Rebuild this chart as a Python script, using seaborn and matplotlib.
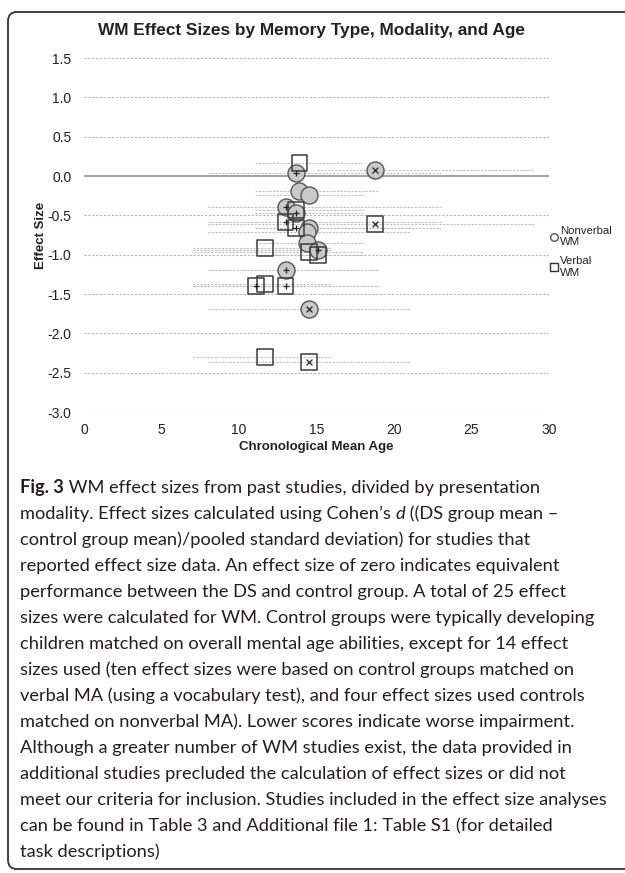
import matplotlib
matplotlib.use("Agg")
import matplotlib.pyplot as plt
import seaborn as sns
import pandas as pd
from matplotlib.lines import Line2D
from matplotlib.patches import FancyBboxPatch

# ---------------- data ----------------
nv_age = [18.8, 13.7, 13.9, 14.5, 13.0, 13.7, 14.5, 14.4, 14.4, 15.1, 13.0, 14.5]
nv_es = [0.08, 0.04, -0.19, -0.24, -0.39, -0.47, -0.66, -0.71, -0.85, -0.94, -1.19, -1.69]
nv_sym = ['x', '+', '', '', '+', '+', '', '', '', '+', '+', 'x']
nv_lo = [15, 8, 11, 11, 8, 11, 11, 8, 11, 7, 8, 8]
nv_hi = [29, 23, 19, 18, 23, 18, 23, 21, 18, 16, 19, 21]

v_age = [13.9, 18.8, 13.7, 13.0, 13.7, 11.7, 14.5, 15.1, 11.1, 11.7, 13.0, 11.7, 14.5]
v_es = [0.17, -0.61, -0.43, -0.58, -0.66, -0.91, -0.97, -1.00, -1.40, -1.37, -1.40, -2.30, -2.36]
v_sym = ['', 'x', '', '+', '+', '', '', '', '+', '', '+', '', 'x']
v_lo = [11, 8, 11, 8, 11, 7, 7, 11, 7, 7, 7, 7, 8]
v_hi = [18, 29, 18, 23, 21, 16, 18, 18, 16, 16, 19, 16, 21]

y_ticks = [1.5, 1.0, 0.5, 0.0, -0.5, -1.0, -1.5, -2.0, -2.5, -3.0]
x_ticks = [0, 5, 10, 15, 20, 25, 30]

title = "WM Effect Sizes by Memory Type, Modality, and Age"
x_label = "Chronological Mean Age"
y_label = "Effect Size"
legend_labels = ["Nonverbal\nWM", "Verbal\nWM"]

caption_lines = [
    ("Fig. 3", " WM effect sizes from past studies, divided by presentation", None),
    ("", "modality. Effect sizes calculated using Cohen\u2019s ", ("d", " ((DS group mean \u2013")),
    ("", "control group mean)/pooled standard deviation) for studies that", None),
    ("", "reported effect size data. An effect size of zero indicates equivalent", None),
    ("", "performance between the DS and control group. A total of 25 effect", None),
    ("", "sizes were calculated for WM. Control groups were typically developing", None),
    ("", "children matched on overall mental age abilities, except for 14 effect", None),
    ("", "sizes used (ten effect sizes were based on control groups matched on", None),
    ("", "verbal MA (using a vocabulary test), and four effect sizes used controls", None),
    ("", "matched on nonverbal MA). Lower scores indicate worse impairment.", None),
    ("", "Although a greater number of WM studies exist, the data provided in", None),
    ("", "additional studies precluded the calculation of effect sizes or did not", None),
    ("", "meet our criteria for inclusion. Studies included in the effect size analyses", None),
    ("", "can be found in Table 3 and Additional file 1: Table S1 (for detailed", None),
    ("", "task descriptions)", None),
]

nv = pd.DataFrame({"age": nv_age, "es": nv_es, "sym": nv_sym, "lo": nv_lo, "hi": nv_hi})
vb = pd.DataFrame({"age": v_age, "es": v_es, "sym": v_sym, "lo": v_lo, "hi": v_hi})

# ---------------- figure ----------------
sns.set_style("white")
plt.rcParams['font.family'] = ['Liberation Sans', 'DejaVu Sans']

W, H = 625, 873
fig = plt.figure(figsize=(W / 100, H / 100), dpi=100)

def fx(px):
    return px / W

def fy(py):
    return 1 - py / H

ax = fig.add_axes([fx(84), fy(412), fx(549) - fx(84), fy(58) - fy(412)])
ax.set_xlim(0, 30)
ax.set_ylim(-3.0, 1.5)

# gridlines
for yv in y_ticks:
    if yv == 0:
        ax.axhline(yv, color='#9a9a9a', lw=1.3, zorder=1)
    else:
        ax.axhline(yv, color='#b5b5b5', lw=0.8, ls=(0, (2, 1.5)), zorder=1)

# age range lines
ax.hlines(nv["es"], nv["lo"], nv["hi"], colors='#c0c0c0', lw=0.8, linestyles=(0, (2, 1.2)), zorder=1.5)
ax.hlines(vb["es"], vb["lo"], vb["hi"], colors='#c0c0c0', lw=0.8, linestyles=(0, (2, 1.2)), zorder=1.5)

# markers
sns.scatterplot(data=nv, x="age", y="es", marker='o', s=150, color='#c9c9c9',
                edgecolor='#555555', linewidth=1.0, ax=ax, zorder=3, legend=False)
sns.scatterplot(data=vb, x="age", y="es", marker='s', s=130, color='#333333',
                edgecolor='#3a3a3a', linewidth=1.1, ax=ax, zorder=4, legend=False)
ax.collections[-1].set_facecolor('none')

for df in (nv, vb):
    for sym, size in (('+', 22), ('x', 18)):
        sub = df[df["sym"] == sym]
        if len(sub):
            ax.scatter(sub["age"], sub["es"], marker=sym, s=size, color='#222222',
                       linewidths=0.9, zorder=5)

ax.set_xticks(x_ticks)
ax.set_yticks(y_ticks)
ax.set_xticklabels([str(t) for t in x_ticks])
ax.set_yticklabels([f"{t:.1f}" for t in y_ticks])
ax.tick_params(axis='both', length=0, labelsize=10, colors='#222222')
ax.tick_params(axis='y', pad=9)
ax.tick_params(axis='x', pad=8)
for s in ax.spines.values():
    s.set_visible(False)
ax.set_xlabel(x_label, fontsize=9.5, fontweight='bold', color='#222222', labelpad=3)
ax.set_ylabel(y_label, fontsize=9.5, fontweight='bold', color='#222222', labelpad=0)
ax.set_facecolor('none')

fig.text(fx(312), fy(30), title, fontsize=12.4, fontweight='bold', ha='center', va='center',
         color='#222222')

handles = [
    Line2D([], [], marker='o', ls='none', markersize=5.5, markerfacecolor='white',
           markeredgecolor='#555555', markeredgewidth=1.0),
    Line2D([], [], marker='s', ls='none', markersize=5.5, markerfacecolor='white',
           markeredgecolor='#333333', markeredgewidth=1.0),
]
leg = ax.legend(handles, legend_labels, loc='upper left', bbox_to_anchor=(fx(545), fy(220)),
                bbox_transform=fig.transFigure, frameon=False, fontsize=8.2,
                handlelength=0.6, handletextpad=0.2, labelspacing=0.8, borderpad=0)
for t in leg.get_texts():
    t.set_color('#222222')

# frame (inches), extends past the right edge
frame = FancyBboxPatch((0.08, 0.04), 9.0, 8.57,
                       boxstyle="round,pad=0,rounding_size=0.09",
                       transform=fig.dpi_scale_trans, fill=False, edgecolor='#333333', lw=1.3,
                       clip_on=False)
fig.patches.append(frame)

# caption
cap_font = ['Lato', 'DejaVu Sans']
cap_color = '#231f20'
renderer = fig.canvas.get_renderer()
target_w = 587.0
probe = fig.text(0, 0, caption_lines[12][1], fontsize=11, family=cap_font)
w = probe.get_window_extent(renderer).width
probe.remove()
cap_size = 11 * target_w / w

y0, dy = 488, 26
for i, (bold, rest, extra) in enumerate(caption_lines):
    yy = fy(y0 + i * dy)
    xx = 20.0
    if bold:
        t = fig.text(fx(xx), yy, bold, fontsize=cap_size, family=cap_font, fontweight='bold',
                     va='center', ha='left', color=cap_color)
        xx += t.get_window_extent(renderer).width
    t = fig.text(fx(xx), yy, rest, fontsize=cap_size, family=cap_font, va='center', ha='left',
                 color=cap_color)
    xx += t.get_window_extent(renderer).width
    if extra:
        t = fig.text(fx(xx), yy, extra[0], fontsize=cap_size, family=cap_font, style='italic',
                     va='center', ha='left', color=cap_color)
        xx += t.get_window_extent(renderer).width
        fig.text(fx(xx), yy, extra[1], fontsize=cap_size, family=cap_font, va='center',
                 ha='left', color=cap_color)

fig.savefig("out.png", dpi=100)
